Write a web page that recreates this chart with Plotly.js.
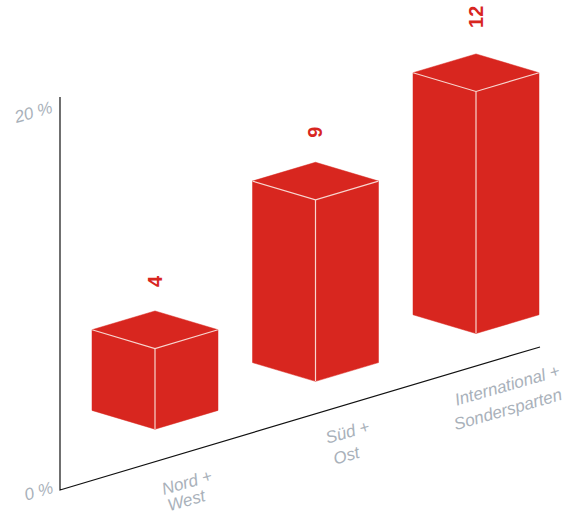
<!DOCTYPE html>
<html>
<head>
<meta charset="utf-8">
<script src="https://cdn.plot.ly/plotly-3.0.1.min.js"></script>
<style>html,body{margin:0;padding:0;background:#fff}#chart{width:570px;height:515px}</style>
</head>
<body>
<div id="chart"></div>
<script>
// Chart values
const categories = [['Nord +', 'West'], ['Süd +', 'Ost'], ['International +', 'Sondersparten']];
const values = [4, 9, 12];
const percentTicks = [0, 20];

// Oblique projection of the bars onto the flat plotting plane
const width = 570, height = 515;
const originX = 60, originY = 490;      // pixel position of the axes' corner
const unit = 20.17;                     // pixels per value unit
const slope = 0.298;                    // rise of the floor line
const floorEndX = 540;
const axisTopY = 97;
const barStart = 155, barStep = 160.5;  // front corner of the first bar, spacing
const halfWidth = 63, barLift = 32.5;   // half a bar across, gap above floor line
const pctY = p => originY - p * 18.9;   // pixel height of a percent tick

const toY = px => (originY - px) / unit;
const floorY = x => originY - slope * (x - originX);

const fx = [], fy = [], ex = [], ey = [], labels = [];
values.forEach((v, i) => {
  const cx = barStart + barStep * i;
  const base = floorY(cx) - barLift;
  const top = base - v * unit;
  const rise = halfWidth * slope;
  const L = cx - halfWidth, R = cx + halfWidth;
  // left face, right face, top face
  fx.push(L, cx, cx, L, L, null, cx, R, R, cx, cx, null, L, cx, R, cx, L, null);
  fy.push(top - rise, top, base, base - rise, top - rise, null,
          top, top - rise, base - rise, base, top, null,
          top - rise, top, top - rise, top - 2 * rise, top - rise, null);
  // light edges meeting at the front top corner
  ex.push(L, cx, R, null, cx, cx, null);
  ey.push(top - rise, top, top - rise, null, top, base, null);
  labels.push({
    x: cx, y: toY(top - 2 * rise - (v > 9 ? 37 : 30)), text: String(v), textangle: -90,
    showarrow: false, xanchor: 'center', yanchor: 'middle',
    font: {family: 'Liberation Sans, Arial, sans-serif', size: 20, color: '#d8261f', weight: 700}
  });
});

const grey = {family: 'Liberation Sans, Arial, sans-serif', size: 17, color: '#a9b1ba'};
const angle = -16;

// Each category line is placed on its own so the leading can be wider than the default
const lineCentres = [[[187, 482], [187, 500]], [[347, 432], [347, 455]], [[507, 385], [508, 409]]];
const catLabels = categories.flatMap((lines, i) => lines.map((t, j) => ({
  x: lineCentres[i][j][0], y: toY(lineCentres[i][j][1]), text: '<i>' + t + '</i>', textangle: angle,
  showarrow: false, xanchor: 'center', yanchor: 'middle', font: grey
})));
const pctLabels = percentTicks.map(p => ({
  x: p === 0 ? 38 : 33, y: toY(p === 0 ? 491 : pctY(p)), text: '<i>' + p + ' %</i>', textangle: angle,
  showarrow: false, xanchor: 'center', yanchor: 'middle', font: grey
}));

const traces = [
  {x: [originX, originX, floorEndX], y: [toY(axisTopY), 0, toY(floorY(floorEndX))],
   mode: 'lines', line: {color: '#111', width: 1.2}, hoverinfo: 'skip'},
  {x: fx, y: fy.map(p => p === null ? null : toY(p)), mode: 'lines', fill: 'toself',
   fillcolor: '#d8261f', line: {color: '#d8261f', width: 0.5}, hoverinfo: 'skip'},
  {x: ex, y: ey.map(p => p === null ? null : toY(p)), mode: 'lines',
   line: {color: '#f8d5cf', width: 1.2}, hoverinfo: 'skip'}
];

const layout = {
  width, height,
  margin: {l: 0, r: 0, t: 0, b: 0},
  paper_bgcolor: '#fff', plot_bgcolor: '#fff',
  showlegend: false,
  xaxis: {range: [0, width], visible: false, fixedrange: true},
  yaxis: {range: [toY(height), toY(0)], visible: false, fixedrange: true},
  annotations: [...labels, ...catLabels, ...pctLabels]
};
Plotly.newPlot('chart', traces, layout, {displayModeBar: false, staticPlot: true});
</script>
</body>
</html>
